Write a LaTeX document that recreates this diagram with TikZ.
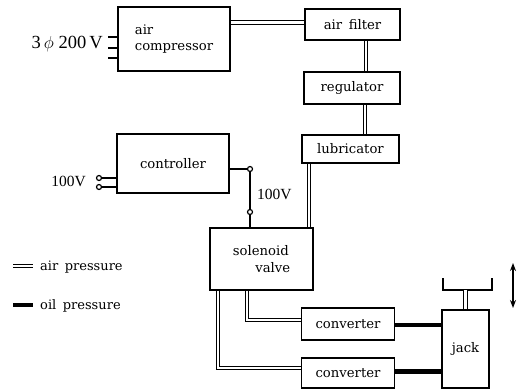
\documentclass[tikz,border=0pt]{standalone}
\usepackage{fontspec}
\setmainfont{DejaVu Serif}
\newfontfamily\timesf{Liberation Serif}
\usetikzlibrary{arrows.meta}
\begin{document}
\begin{tikzpicture}[x=1pt,y=-1pt,
  box/.style={draw,line width=1.6pt,inner sep=0pt,font=\fontsize{13.2}{16.5}\selectfont},
  airp/.style={draw,line width=1.1pt,double=white,double distance=2.2pt},
  oilp/.style={draw,line width=4.8pt},
  wire/.style={draw,line width=1.5pt},
  term/.style={circle,draw,line width=1.2pt,inner sep=0pt,minimum size=5pt,fill=white},
  lbl/.style={font=\fontsize{13}{15}\selectfont,inner sep=0pt},
  vlbl/.style={font=\timesf\fontsize{15.5}{17}\selectfont,inner sep=0pt}]
\useasboundingbox[fill=white] (0,0) rectangle (524,390);
% boxes
\node[box,minimum width=112pt,minimum height=64pt,align=left] (comp) at (174,39) {air\\compressor};
\node[box,minimum width=95pt,minimum height=31pt] (filt) at (352.5,24.5) {air\enspace filter};
\node[box,minimum width=96pt,minimum height=32pt] (reg) at (352,88) {regulator};
\node[box,minimum width=97pt,minimum height=28pt] (lub) at (350.5,149) {lubricator};
\node[box,minimum width=112pt,minimum height=59pt] (ctrl) at (173,163.5) {controller};
\node[box,minimum width=103pt,minimum height=62pt,align=left] (sol) at (261.5,259) {solenoid\\\hspace*{1.7em}valve};
\node[box,minimum width=93pt,minimum height=32pt] (conv1) at (348,324) {converter};
\node[box,minimum width=93pt,minimum height=30pt] (conv2) at (348,373) {converter};
\node[box,minimum width=47pt,minimum height=78pt] (jack) at (465.5,349) {jack};
% power input of compressor
\node[font=\timesf\fontsize{18.5}{20}\selectfont,anchor=east,inner sep=0pt] (v3) at (103,44) {3\,$\phi$ 200\,V};
\coordinate (p1) at (108,37);
\coordinate (p2) at (108,48);
\coordinate (p3) at (108,58);
\draw[wire] (p1) -- (p1 -| comp.west);
\draw[wire] (p2) -- (p2 -| comp.west);
\draw[wire] (p3) -- (p3 -| comp.west);
% air line
\draw[airp] ([yshift=2pt]filt.west -| comp.east) -- ([yshift=2pt]filt.west);
\draw[airp] ([xshift=13.5pt]filt.south) -- ([xshift=13.5pt]filt.south |- reg.north);
\draw[airp] ([xshift=13pt]reg.south) -- ([xshift=13pt]reg.south |- lub.north);
\draw[airp] ([xshift=-41.5pt]lub.south) -- ([xshift=-41.5pt]lub.south |- sol.north);
\draw[airp] ([xshift=-14.5pt]sol.south) |- ([yshift=4pt]conv1.west);
\draw[airp] ([xshift=-43.5pt]sol.south) |- ([yshift=5pt]conv2.west);
% oil lines
\draw[oilp] ([yshift=-1pt]conv1.east) -- ([yshift=-1pt]conv1.east -| jack.west);
\draw[oilp] ([yshift=1.5pt]conv2.east) -- ([yshift=1.5pt]conv2.east -| jack.west);
% controller wiring
\node[term] (t1) at (250,169) {};
\node[term] (t2) at (250,212) {};
\node[term] (t3) at (99,178) {};
\node[term] (t4) at (99,187) {};
\draw[wire] (t1 -| ctrl.east) -- (t1);
\draw[wire] (t1) -- (t2);
\draw[wire] (t2) -- (t2 |- sol.north);
\draw[wire] (t3) -- (t3 -| ctrl.west);
\draw[wire] (t4) -- (t4 -| ctrl.west);
\node[vlbl,anchor=east] (v1) at (86,181) {100V};
\node[vlbl,anchor=west] (v2) at (257,194) {100V};
% table on jack
\coordinate (tl) at (443,278);
\coordinate (tbl) at (443,290);
\coordinate (tbr) at (492,290);
\coordinate (tr) at (492,278);
\draw[wire] (tl) -- (tbl) -- (tbr) -- (tr);
\draw[airp] (jack.north) -- (jack.north |- tbl);
% motion arrow
\coordinate (ar1) at (513,263);
\coordinate (ar2) at (513,308);
\draw[line width=1.5pt,{Stealth[length=8pt,width=6pt]}-{Stealth[length=8pt,width=6pt]}] (ar1) -- (ar2);
% legend
\coordinate (la1) at (13,266);
\coordinate (la2) at (33,266);
\coordinate (lo1) at (13,305);
\coordinate (lo2) at (33,305);
\draw[airp] (la1) -- (la2);
\draw[oilp] (lo1) -- (lo2);
\node[lbl,anchor=west] (lair) at (40,267) {air\enspace pressure};
\node[lbl,anchor=west] (loil) at (40,306) {oil\enspace pressure};
\end{tikzpicture}
\end{document}
